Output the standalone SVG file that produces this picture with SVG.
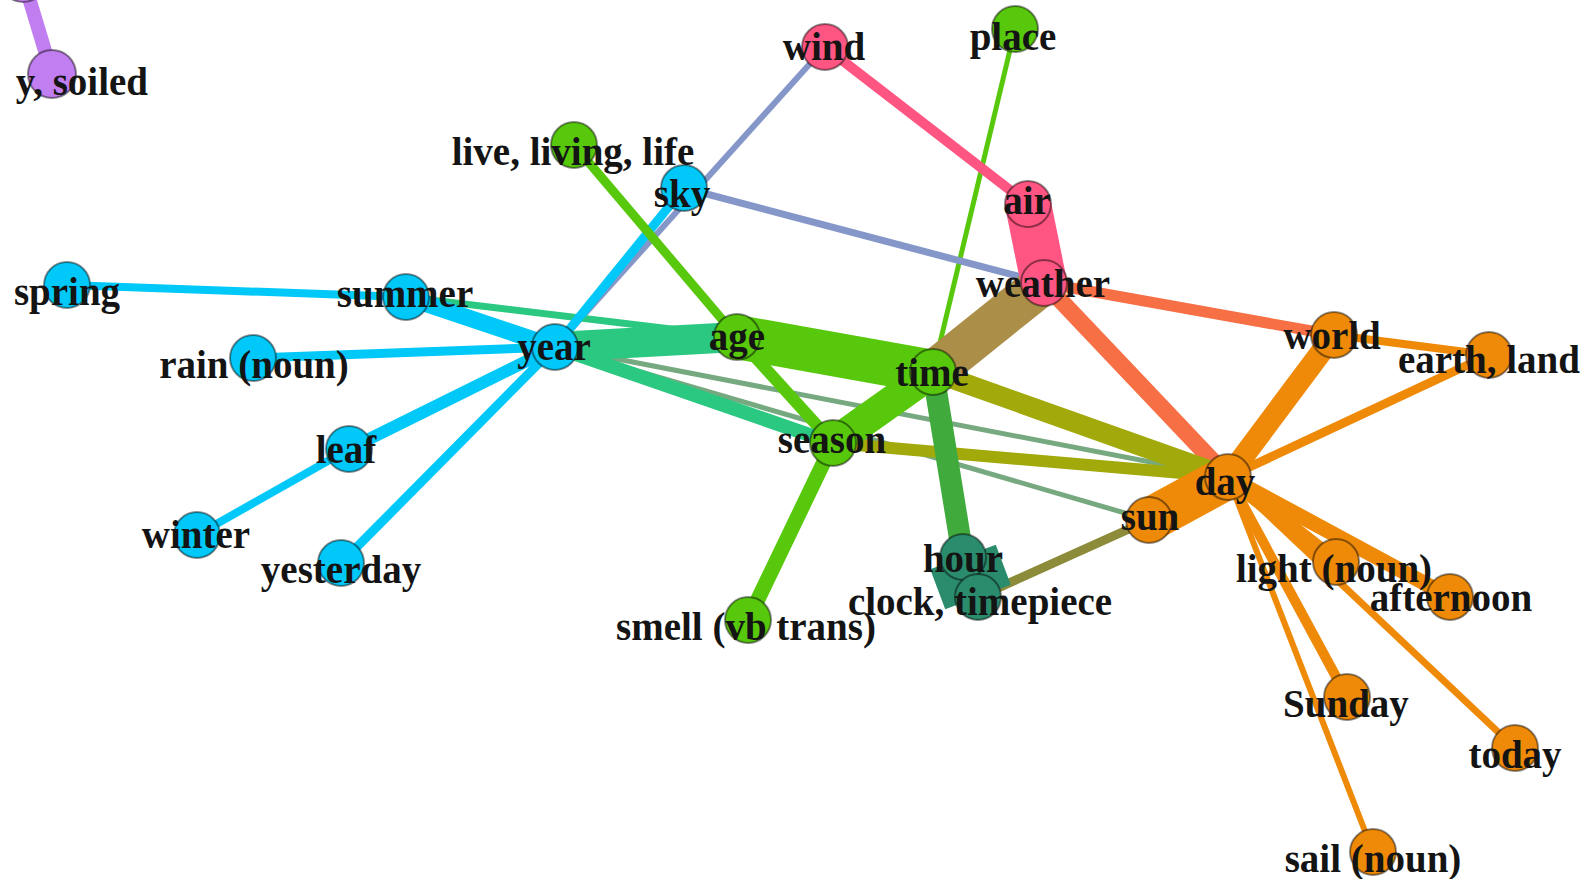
<svg xmlns="http://www.w3.org/2000/svg" width="1588" height="879" viewBox="0 0 1588 879">
  <style>
    .e { fill: none; stroke-linecap: butt; }
    .n circle { stroke: rgba(0,0,0,0.45); stroke-width: 2; }
    .n text { font-family: "Liberation Serif", "Times New Roman", serif; font-weight: bold; font-size: 39px; fill: #141414; text-anchor: middle; }
    .blue circle { fill: #00c8f8; }
    .green circle { fill: #57c80c; }
    .pink circle { fill: #ff5582; }
    .orange circle { fill: #ee8a08; }
    .teal circle { fill: #2a8c6c; }
    .purple circle { fill: #c17ef0; }
  </style>
  <rect width="1588" height="879" fill="#ffffff"/>

  <!-- connectors, thin first so heavy links sit on top -->
  <g id="connectors">
    <line class="e" x1="555" y1="347" x2="1228" y2="477" stroke="#77a980" stroke-width="5"/>
    <line class="e" x1="555" y1="347" x2="1149" y2="520" stroke="#77a980" stroke-width="5"/>
    <line class="e" x1="1015" y1="29" x2="933" y2="372" stroke="#57c80c" stroke-width="5"/>
    <line class="e" x1="825" y1="47" x2="555" y2="347" stroke="#8497c8" stroke-width="6"/>
    <line class="e" x1="684" y1="188" x2="1044" y2="283" stroke="#8497c8" stroke-width="7"/>
    <line class="e" x1="1228" y1="477" x2="1373" y2="852" stroke="#ee8a08" stroke-width="6"/>
    <line class="e" x1="1228" y1="477" x2="1515" y2="748" stroke="#ee8a08" stroke-width="7"/>
    <line class="e" x1="406" y1="297" x2="737" y2="337" stroke="#2bc882" stroke-width="7"/>
    <line class="e" x1="67" y1="285" x2="406" y2="297" stroke="#00c8f8" stroke-width="8"/>
    <line class="e" x1="197" y1="535" x2="349" y2="449" stroke="#00c8f8" stroke-width="8"/>
    <line class="e" x1="1334" y1="335" x2="1489" y2="355" stroke="#ee8a08" stroke-width="8"/>
    <line class="e" x1="1228" y1="477" x2="1489" y2="355" stroke="#ee8a08" stroke-width="9"/>
    <line class="e" x1="253" y1="358" x2="555" y2="347" stroke="#00c8f8" stroke-width="9"/>
    <line class="e" x1="341" y1="563" x2="555" y2="347" stroke="#00c8f8" stroke-width="9"/>
    <line class="e" x1="684" y1="188" x2="555" y2="347" stroke="#00c8f8" stroke-width="9"/>
    <line class="e" x1="574" y1="145" x2="737" y2="337" stroke="#57c80c" stroke-width="9"/>
    <line class="e" x1="978" y1="597" x2="1149" y2="520" stroke="#8c8b3a" stroke-width="9"/>
    <line class="e" x1="825" y1="47" x2="1028" y2="204" stroke="#ff5582" stroke-width="10"/>
    <line class="e" x1="1228" y1="477" x2="1347" y2="697" stroke="#ee8a08" stroke-width="10"/>
    <line class="e" x1="1044" y1="283" x2="1334" y2="335" stroke="#f66f45" stroke-width="11"/>
    <line class="e" x1="349" y1="449" x2="555" y2="347" stroke="#00c8f8" stroke-width="12"/>
    <line class="e" x1="737" y1="337" x2="833" y2="443" stroke="#57c80c" stroke-width="12"/>
    <line class="e" x1="833" y1="443" x2="1228" y2="477" stroke="#a2a90a" stroke-width="12"/>
    <line class="e" x1="555" y1="347" x2="833" y2="443" stroke="#2bc882" stroke-width="14"/>
    <line class="e" x1="833" y1="443" x2="748" y2="620" stroke="#57c80c" stroke-width="15"/>
    <line class="e" x1="1228" y1="477" x2="1336" y2="562" stroke="#ee8a08" stroke-width="15"/>
    <line class="e" x1="1228" y1="477" x2="1450" y2="597" stroke="#ee8a08" stroke-width="15"/>
    <line class="e" x1="406" y1="297" x2="555" y2="347" stroke="#00c8f8" stroke-width="17"/>
    <line class="e" x1="1044" y1="283" x2="1228" y2="477" stroke="#f66f45" stroke-width="17"/>
    <line class="e" x1="933" y1="372" x2="1228" y2="477" stroke="#a2a90a" stroke-width="20"/>
    <line class="e" x1="1228" y1="477" x2="1334" y2="335" stroke="#ee8a08" stroke-width="22"/>
    <line class="e" x1="933" y1="372" x2="963" y2="557" stroke="#40aa3c" stroke-width="22"/>
    <line class="e" x1="555" y1="347" x2="737" y2="337" stroke="#2bc882" stroke-width="30"/>
    <line class="e" x1="833" y1="443" x2="933" y2="372" stroke="#57c80c" stroke-width="31"/>
    <line class="e" x1="933" y1="372" x2="1044" y2="283" stroke="#ab8e47" stroke-width="42"/>
    <line class="e" x1="737" y1="337" x2="933" y2="372" stroke="#57c80c" stroke-width="44"/>
    <line class="e" x1="1149" y1="520" x2="1228" y2="477" stroke="#ee8a08" stroke-width="44"/>
    <line class="e" x1="1028" y1="204" x2="1044" y2="283" stroke="#ff5582" stroke-width="46"/>
    <line class="e" x1="963" y1="557" x2="978" y2="597" stroke="#2a8c6c" stroke-width="70"/>
    <line class="e" x1="23" y1="-22" x2="52" y2="74" stroke="#c17ef0" stroke-width="14"/>
  </g>

  <!-- purple pair -->
  <g id="node-dirty-top" class="n purple"><circle cx="23" cy="-22" r="24"/></g>
  <g id="node-soiled" class="n purple"><circle cx="52" cy="74" r="24"/><text x="148" y="95" style="text-anchor:end">y, soiled</text></g>

  <!-- blue cluster -->
  <g id="node-spring" class="n blue"><circle cx="67" cy="285" r="23"/><text x="67" y="305">spring</text></g>
  <g id="node-summer" class="n blue"><circle cx="406" cy="297" r="23"/><text x="405" y="307">summer</text></g>
  <g id="node-rain" class="n blue"><circle cx="253" cy="358" r="23"/><text x="254" y="378">rain (noun)</text></g>
  <g id="node-leaf" class="n blue"><circle cx="349" cy="449" r="23"/><text x="346" y="463">leaf</text></g>
  <g id="node-winter" class="n blue"><circle cx="197" cy="535" r="23"/><text x="196" y="548">winter</text></g>
  <g id="node-yesterday" class="n blue"><circle cx="341" cy="563" r="23"/><text x="341" y="583">yesterday</text></g>
  <g id="node-year" class="n blue"><circle cx="555" cy="347" r="23"/><text x="554" y="360">year</text></g>
  <g id="node-sky" class="n blue"><circle cx="684" cy="188" r="23"/><text x="682" y="207">sky</text></g>

  <!-- green cluster -->
  <g id="node-live" class="n green"><circle cx="574" cy="145" r="23"/><text x="573" y="165">live, living, life</text></g>
  <g id="node-place" class="n green"><circle cx="1015" cy="29" r="23"/><text x="1013" y="50">place</text></g>
  <g id="node-age" class="n green"><circle cx="737" cy="337" r="23"/><text x="737" y="350">age</text></g>
  <g id="node-time" class="n green"><circle cx="933" cy="372" r="23"/><text x="932" y="386">time</text></g>
  <g id="node-season" class="n green"><circle cx="833" cy="443" r="23"/><text x="832" y="453">season</text></g>
  <g id="node-smell" class="n green"><circle cx="748" cy="620" r="23"/><text x="746" y="640">smell (vb trans)</text></g>

  <!-- pink cluster -->
  <g id="node-wind" class="n pink"><circle cx="825" cy="47" r="23"/><text x="824" y="60">wind</text></g>
  <g id="node-air" class="n pink"><circle cx="1028" cy="204" r="23"/><text x="1027" y="214">air</text></g>
  <g id="node-weather" class="n pink"><circle cx="1044" cy="283" r="23"/><text x="1043" y="297">weather</text></g>

  <!-- teal pair -->
  <g id="node-hour" class="n teal"><circle cx="963" cy="557" r="23"/><text x="963" y="572">hour</text></g>
  <g id="node-clock" class="n teal"><circle cx="978" cy="597" r="23"/><text x="980" y="615">clock, timepiece</text></g>

  <!-- orange cluster -->
  <g id="node-sun" class="n orange"><circle cx="1149" cy="520" r="23"/><text x="1150" y="530">sun</text></g>
  <g id="node-day" class="n orange"><circle cx="1228" cy="477" r="23"/><text x="1225" y="495">day</text></g>
  <g id="node-world" class="n orange"><circle cx="1334" cy="335" r="23"/><text x="1332" y="349">world</text></g>
  <g id="node-earth" class="n orange"><circle cx="1489" cy="355" r="23"/><text x="1489" y="373">earth, land</text></g>
  <g id="node-afternoon" class="n orange"><circle cx="1450" cy="597" r="23"/><text x="1451" y="611">afternoon</text></g>
  <g id="node-light" class="n orange"><circle cx="1336" cy="562" r="23"/><text x="1334" y="582">light (noun)</text></g>
  <g id="node-sunday" class="n orange"><circle cx="1347" cy="697" r="23"/><text x="1346" y="717">Sunday</text></g>
  <g id="node-today" class="n orange"><circle cx="1515" cy="748" r="23"/><text x="1515" y="768">today</text></g>
  <g id="node-sail" class="n orange"><circle cx="1373" cy="852" r="23"/><text x="1373" y="872">sail (noun)</text></g>
</svg>
